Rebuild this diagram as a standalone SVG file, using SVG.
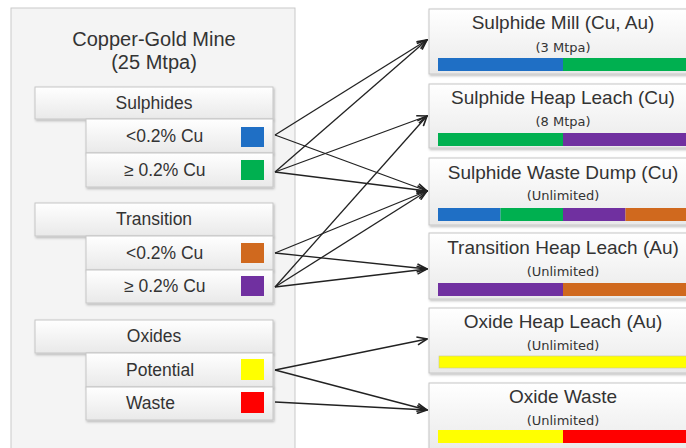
<svg xmlns="http://www.w3.org/2000/svg" width="686" height="448" viewBox="0 0 686 448">
<defs>
<linearGradient id="g" x1="0" y1="0" x2="0" y2="1"><stop offset="0" stop-color="#ffffff"/><stop offset="1" stop-color="#e9e9e9"/></linearGradient>
<filter id="sh" x="-5%" y="-5%" width="115%" height="130%"><feDropShadow dx="1" dy="1.5" stdDeviation="1" flood-color="#000" flood-opacity="0.25"/></filter>
<marker id="ah" viewBox="0 0 12 10" refX="11" refY="5" markerWidth="12" markerHeight="10" markerUnits="userSpaceOnUse" orient="auto"><path d="M1,1 L11,5 L1,9" fill="none" stroke="#222" stroke-width="1.6"/></marker>
</defs>
<style>
.outer{fill:#f4f4f4;stroke:#c9c9c9;stroke-width:1}
.box{fill:url(#g);stroke:#c6c6c6;stroke-width:1;filter:url(#sh)}
.t{font-family:"Liberation Sans",Arial,sans-serif;fill:#333}
.ttl{font-size:19px;text-anchor:middle}
.big{font-size:20px}
.hdr{font-size:17.5px;text-anchor:middle}
.lbl{font-size:17.5px}
.sub{font-family:"DejaVu Sans",sans-serif;font-size:13px;fill:#333;text-anchor:middle}
.c{stroke:none}
.conn line{stroke:#222;stroke-width:1.3;marker-end:url(#ah)}
</style>
<rect width="686" height="448" fill="#ffffff"/>
<g id="mine">
<rect class="outer" x="11" y="8" width="284" height="446"/>
<text class="t ttl big" x="154" y="46">Copper-Gold Mine</text>
<text class="t ttl big" x="154" y="69">(25 Mtpa)</text>
</g>
<g id="sulphides">
<rect class="box" x="35" y="87" width="238" height="32"/>
<text class="t hdr" x="154" y="109">Sulphides</text>
</g>
<g id="sul-low">
<rect class="box" x="86" y="119" width="187" height="34"/>
<text class="t lbl" x="126" y="142">&lt;0.2% Cu</text>
<rect class="c" x="241" y="127" width="23" height="20" fill="#1F6FC5"/>
</g>
<g id="sul-high">
<rect class="box" x="86" y="153" width="187" height="34"/>
<text class="t lbl" x="124" y="176">≥ 0.2% Cu</text>
<rect class="c" x="241" y="160" width="23" height="20" fill="#00B050"/>
</g>
<g id="transition">
<rect class="box" x="35" y="203" width="238" height="33"/>
<text class="t hdr" x="154" y="225">Transition</text>
</g>
<g id="tra-low">
<rect class="box" x="86" y="236" width="187" height="34"/>
<text class="t lbl" x="126" y="259">&lt;0.2% Cu</text>
<rect class="c" x="241" y="243" width="23" height="20" fill="#D0691E"/>
</g>
<g id="tra-high">
<rect class="box" x="86" y="270" width="187" height="33"/>
<text class="t lbl" x="124" y="292">≥ 0.2% Cu</text>
<rect class="c" x="241" y="276" width="23" height="20" fill="#7030A0"/>
</g>
<g id="oxides">
<rect class="box" x="35" y="320" width="238" height="33"/>
<text class="t hdr" x="154" y="342">Oxides</text>
</g>
<g id="ox-pot">
<rect class="box" x="86" y="353" width="187" height="34"/>
<text class="t lbl" x="126" y="376">Potential</text>
<rect class="c" x="241" y="359" width="23" height="21" fill="#FFFF00" stroke="#d0d0a0" stroke-width="0.5"/>
</g>
<g id="ox-waste">
<rect class="box" x="86" y="387" width="187" height="33"/>
<text class="t lbl" x="126" y="409">Waste</text>
<rect class="c" x="241" y="392" width="23" height="21" fill="#FF0000"/>
</g>
<g id="sulphide-mill">
<rect class="box" x="429" y="9" width="268" height="65"/>
<text class="t ttl" x="563" y="29">Sulphide Mill (Cu, Au)</text>
<text class="sub" x="563" y="52">(3 Mtpa)</text>
<rect x="438" y="58" width="125" height="13" fill="#1F6FC5"/>
<rect x="563" y="58" width="125" height="13" fill="#00B050"/>
</g>
<g id="sulphide-heap-leach">
<rect class="box" x="429" y="84" width="268" height="64"/>
<text class="t ttl" x="563" y="104">Sulphide Heap Leach (Cu)</text>
<text class="sub" x="563" y="126">(8 Mtpa)</text>
<rect x="438" y="133" width="125" height="13" fill="#00B050"/>
<rect x="563" y="133" width="125" height="13" fill="#7030A0"/>
</g>
<g id="sulphide-waste-dump">
<rect class="box" x="429" y="158" width="268" height="67"/>
<text class="t ttl" x="563" y="179">Sulphide Waste Dump (Cu)</text>
<text class="sub" x="563" y="200">(Unlimited)</text>
<rect x="438" y="208" width="62.5" height="13" fill="#1F6FC5"/>
<rect x="500.5" y="208" width="62.5" height="13" fill="#00B050"/>
<rect x="563" y="208" width="62.5" height="13" fill="#7030A0"/>
<rect x="625.5" y="208" width="62.5" height="13" fill="#D0691E"/>
</g>
<g id="transition-heap-leach">
<rect class="box" x="429" y="233" width="268" height="66"/>
<text class="t ttl" x="563" y="254">Transition Heap Leach (Au)</text>
<text class="sub" x="563" y="276">(Unlimited)</text>
<rect x="438" y="283" width="125" height="13" fill="#7030A0"/>
<rect x="563" y="283" width="125" height="13" fill="#D0691E"/>
</g>
<g id="oxide-heap-leach">
<rect class="box" x="429" y="308" width="268" height="65"/>
<text class="t ttl" x="563" y="328">Oxide Heap Leach (Au)</text>
<text class="sub" x="563" y="350">(Unlimited)</text>
<rect x="439" y="356" width="250" height="12" fill="#FFFF00" stroke="#c8c890" stroke-width="0.6"/>
</g>
<g id="oxide-waste">
<rect class="box" x="429" y="383" width="268" height="70"/>
<text class="t ttl" x="563" y="403">Oxide Waste</text>
<text class="sub" x="563" y="425">(Unlimited)</text>
<rect x="438" y="430" width="125" height="13" fill="#FFFF00"/>
<rect x="563" y="430" width="125" height="13" fill="#FF0000"/>
</g>
<g id="connectors" class="conn">
<line x1="275" y1="135" x2="427" y2="40"/>
<line x1="275" y1="135" x2="427" y2="191"/>
<line x1="275" y1="172" x2="427" y2="40"/>
<line x1="275" y1="172" x2="427" y2="116"/>
<line x1="275" y1="172" x2="427" y2="191"/>
<line x1="275" y1="253" x2="427" y2="191"/>
<line x1="275" y1="253" x2="427" y2="269"/>
<line x1="275" y1="287" x2="427" y2="116"/>
<line x1="275" y1="287" x2="427" y2="191"/>
<line x1="275" y1="287" x2="427" y2="269"/>
<line x1="275" y1="370" x2="427" y2="339"/>
<line x1="275" y1="370" x2="427" y2="410"/>
<line x1="275" y1="402" x2="427" y2="410"/>
</g>
</svg>
